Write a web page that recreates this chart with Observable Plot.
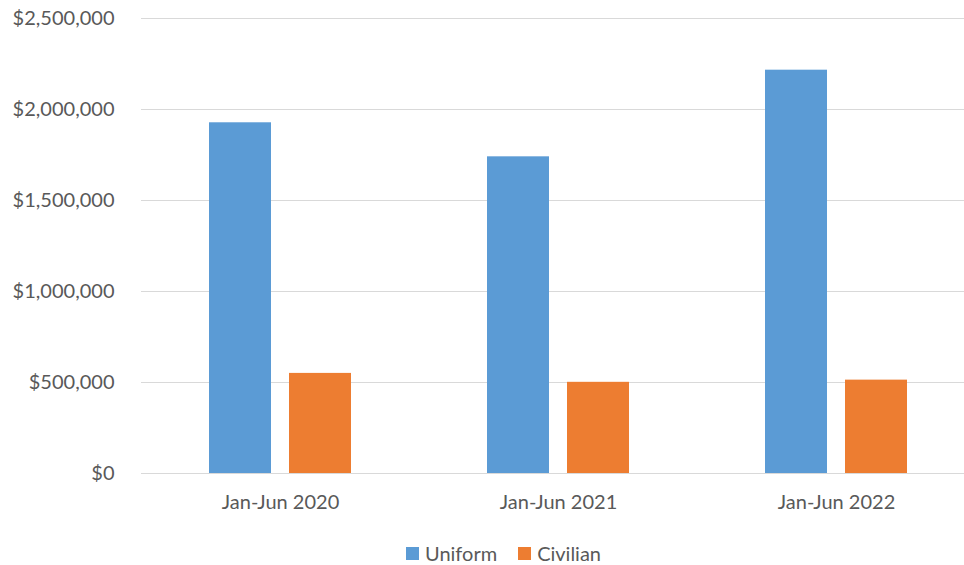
<!DOCTYPE html>
<html>
<head>
<meta charset="utf-8">
<script src="https://cdn.jsdelivr.net/npm/d3@7"></script>
<script src="https://cdn.jsdelivr.net/npm/@observablehq/plot@0.6"></script>
<style>
  html, body { margin: 0; padding: 0; background: #fff; overflow: hidden; }
  body { width: 964px; height: 565px; font-family: Lato, "Open Sans", sans-serif; }
  #legend { display: flex; align-items: center; height: 24px; margin-top: 16px; padding-left: 406px;
            font-size: 20px; color: #595959; }
  #legend .item { display: flex; align-items: center; margin-right: 21px; }
  #legend .sw { width: 13px; height: 13px; margin-right: 6px; }
</style>
</head>
<body>
<div id="chart"></div>
<div id="legend"></div>
<script>
const periods = ["Jan-Jun 2020", "Jan-Jun 2021", "Jan-Jun 2022"];
const series = ["Uniform", "Civilian"];
const uniform = [1927000, 1740000, 2216000];
const civilian = [550000, 501000, 513000];
const yTicks = [0, 500000, 1000000, 1500000, 2000000, 2500000];
const colors = ["#5B9BD5", "#ED7D31"];

const data = [];
periods.forEach((p, i) => {
  data.push({period: p, series: "Uniform", value: uniform[i]});
  data.push({period: p, series: "Civilian", value: civilian[i]});
});

const fmt = d => "$" + d3.format(",")(d);

const chart = Plot.plot({
  width: 964,
  height: 525,
  marginTop: 18,
  marginBottom: 52,
  marginLeft: 140,
  marginRight: 0,
  style: {fontFamily: "Lato, 'Open Sans', sans-serif", fontSize: "20px", color: "#595959", background: "#fff", overflow: "visible"},
  facet: {data, x: "period"},
  fx: {domain: periods, range: [140.5, 975.5], padding: 0, axis: "bottom", tickSize: 0, tickPadding: 21, label: null},
  x: {domain: series, paddingInner: 0.22, paddingOuter: 0.847, axis: null},
  y: {domain: [0, 2500000], ticks: yTicks, tickFormat: fmt, tickSize: 0, tickPadding: 27, label: null},
  color: {domain: series, range: colors},
  marks: [
    Plot.ruleY(yTicks, {stroke: "#D9D9D9", strokeWidth: 1, facet: false}),
    Plot.barY(data, {x: "series", y: "value", fill: "series"})
  ]
});
document.getElementById("chart").appendChild(chart);

const legend = document.getElementById("legend");
series.forEach((s, i) => {
  const item = document.createElement("div");
  item.className = "item";
  const sw = document.createElement("div");
  sw.className = "sw";
  sw.style.background = colors[i];
  const t = document.createElement("span");
  t.textContent = s;
  item.appendChild(sw);
  item.appendChild(t);
  legend.appendChild(item);
});
</script>
</body>
</html>
